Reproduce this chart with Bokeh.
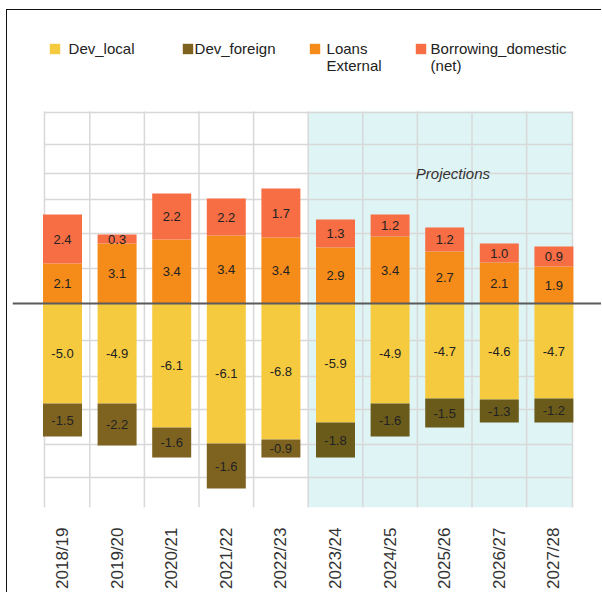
import math
from bokeh.plotting import figure
from bokeh.models import (Range1d, FixedTicker, Span, Legend, LegendItem, Label,
                          ColumnDataSource)
from bokeh.core.properties import value
from bokeh.embed import file_html
from bokeh.resources import INLINE

# ---------------- data ----------------
years = ["2018/19", "2019/20", "2020/21", "2021/22", "2022/23",
         "2023/24", "2024/25", "2025/26", "2026/27", "2027/28"]
first_projection = "2023/24"

# bar heights as drawn
dev_local = [-5.0, -5.0, -6.2, -7.0, -6.8, -5.95, -5.0, -4.75, -4.8, -4.75]
dev_foreign = [-1.65, -2.1, -1.5, -2.25, -0.9, -1.75, -1.65, -1.45, -1.15, -1.2]
loans_external = [2.0, 3.0, 3.2, 3.4, 3.3, 2.8, 3.35, 2.6, 2.05, 1.85]
borrowing_domestic = [2.45, 0.45, 2.3, 1.85, 2.45, 1.4, 1.1, 1.2, 0.95, 1.0]

# values printed on the bars
dev_local_labels = [-5.0, -4.9, -6.1, -6.1, -6.8, -5.9, -4.9, -4.7, -4.6, -4.7]
dev_foreign_labels = [-1.5, -2.2, -1.6, -1.6, -0.9, -1.8, -1.6, -1.5, -1.3, -1.2]
loans_external_labels = [2.1, 3.1, 3.4, 3.4, 3.4, 2.9, 3.4, 2.7, 2.1, 1.9]
borrowing_domestic_labels = [2.4, 0.3, 2.2, 2.2, 1.7, 1.3, 1.2, 1.2, 1.0, 0.9]

series_names = ["Dev_local", "Dev_foreign", "Loans\nExternal", "Borrowing_domestic\n(net)"]

# ---------------- styling ----------------
FONT = "Liberation Sans"
C_LOCAL = "#F6CA3F"
C_FOREIGN_HIST = "#7E6320"
C_FOREIGN_PROJ = "#6A5B1B"
C_LOANS = "#F58B19"
C_BORROW = "#F76D44"
C_PROJ_BG = "#DFF5F5"
C_GRID = "#d8d8d8"

n = len(years)
idx = list(range(n))
proj_i = years.index(first_projection)

px_per_cat = 54.6
x_start = -50 / px_per_cat
x_end = x_start + 590 / px_per_cat
grid_left = -0.33
grid_right = n - 1 + 0.34
y_lo, grid_top, y_hi = -10.2, 9.6, 14.55

src = ColumnDataSource(dict(
    x=idx,
    loc_top=[0] * n, loc_bot=dev_local,
    for_top=dev_local, for_bot=[a + b for a, b in zip(dev_local, dev_foreign)],
    loan_bot=[0] * n, loan_top=loans_external,
    bor_bot=loans_external, bor_top=[a + b for a, b in zip(loans_external, borrowing_domestic)],
    for_color=[C_FOREIGN_HIST if i < proj_i else C_FOREIGN_PROJ for i in idx],
))

p = figure(width=595, height=583, x_range=Range1d(x_start, x_end),
           y_range=Range1d(y_lo, y_hi), output_backend="svg", toolbar_location=None,
           min_border_left=5, min_border_right=0, min_border_top=2, min_border_bottom=86,
           background_fill_color="white", border_fill_color="white")
p.margin = (9, 0, 0, 6)
p.styles = {"border-left": "1px solid #111111", "border-top": "1px solid #111111"}
p.outline_line_color = None
p.xgrid.visible = False
p.ygrid.visible = False
p.yaxis.visible = False

# projection shading
p.quad(left=[proj_i - 0.5], right=[grid_right], bottom=[y_lo], top=[grid_top],
       fill_color=C_PROJ_BG, line_color=None)

# grid
vx = [grid_left] + [i + 0.5 for i in range(n - 1)] + [grid_right]
p.segment(x0=vx, x1=vx, y0=[y_lo] * len(vx), y1=[grid_top] * len(vx),
          line_color=C_GRID, line_width=1.5)
hy = [9.55, 7.95, 6.5, 5.2, 3.5, 1.75, -1.85, -3.65, -5.3, -7.05, -8.7]
p.segment(x0=[grid_left] * len(hy), x1=[grid_right] * len(hy), y0=hy, y1=hy,
          line_color=C_GRID, line_width=1.5)

W = 0.714
r_local = p.vbar(x="x", width=W, top="loc_top", bottom="loc_bot", source=src,
                 fill_color=C_LOCAL, line_color=None)
r_foreign = p.vbar(x="x", width=W, top="for_top", bottom="for_bot", source=src,
                   fill_color="for_color", line_color=None)
r_loans = p.vbar(x="x", width=W, top="loan_top", bottom="loan_bot", source=src,
                 fill_color=C_LOANS, line_color=None)
r_borrow = p.vbar(x="x", width=W, top="bor_top", bottom="bor_bot", source=src,
                  fill_color=C_BORROW, line_color=None)

# labels
def add_labels(bottoms, tops, labels):
    ys = [(b + t) / 2 for b, t in zip(bottoms, tops)]
    p.text(x=idx, y=ys, text=[f"{v:.1f}" for v in labels], text_align="center",
           text_baseline="middle", text_font=value(FONT), text_font_size="13px",
           text_color="#222222")

add_labels(src.data["loc_top"], src.data["loc_bot"], dev_local_labels)
add_labels(src.data["for_top"], src.data["for_bot"], dev_foreign_labels)
add_labels(src.data["loan_bot"], src.data["loan_top"], loans_external_labels)
add_labels(src.data["bor_bot"], src.data["bor_top"], borrowing_domestic_labels)

p.add_layout(Span(location=0, dimension="width", line_color="#5a5a5a", line_width=2))

p.add_layout(Label(x=7.15, y=6.5, text="Projections", text_font=FONT,
                   text_font_style="italic", text_font_size="15px",
                   text_align="center", text_baseline="middle", text_color="#333333"))

# x axis
ax = p.xaxis[0]
ax.ticker = FixedTicker(ticks=idx)
ax.major_label_overrides = {i: y for i, y in enumerate(years)}
ax.major_label_orientation = math.pi / 2
ax.axis_line_color = None
ax.major_tick_line_color = None
ax.minor_tick_line_color = None
ax.major_label_standoff = 14
ax.major_label_text_font = FONT
ax.major_label_text_font_size = "17px"
ax.major_label_text_color = "#333333"

# legends (one per series so each can sit where the reference has it);
# multi-line labels get a leading blank line so the swatch sits beside line one
def add_legend(label, r, x_off, y_off, standoff):
    text = label if "\n" not in label else "\n" + label
    leg = Legend(items=[LegendItem(label=text, renderers=[r], index=0)],
                 location=(x_off, y_off), orientation="horizontal",
                 padding=0, margin=0, spacing=0,
                 border_line_alpha=0, background_fill_alpha=0,
                 glyph_width=13, glyph_height=13, label_standoff=standoff,
                 label_height=12,
                 label_text_font=FONT, label_text_font_size="15px",
                 label_text_color="#222222", label_text_line_height=0.9)
    p.add_layout(leg, "center")

add_legend(series_names[0], r_local, 35.6, 450.5, 8)
add_legend(series_names[1], r_foreign, 168.6, 450.5, 1)
add_legend(series_names[2], r_loans, 295.6, 433.5, 6)
add_legend(series_names[3], r_borrow, 401.6, 433.5, 4)

open("out.html", "w").write(file_html(p, INLINE))
